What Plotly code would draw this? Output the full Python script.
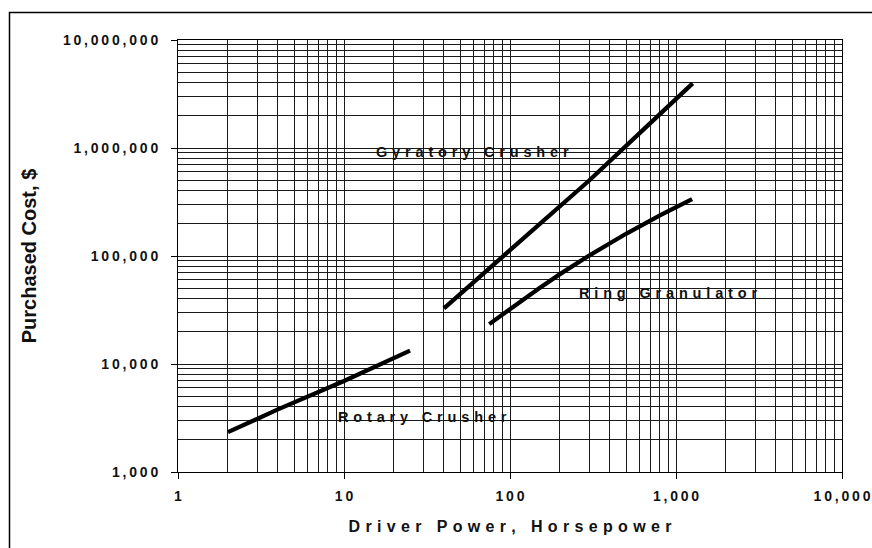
import numpy as np
import plotly.graph_objects as go

# Purchased cost of size-reduction equipment vs. driver power (log-log)
rotary_hp = [2, 4, 10, 25]
rotary_cost = [2340, 3800, 6950, 13300]

gyratory_hp = [40, 100, 300, 700, 1260]
gyratory_cost = [32800, 113000, 500000, 1700000, 3970000]

ring_hp = [75, 100, 150, 200, 300, 500, 800, 1250]
ring_cost = [23400, 32500, 50400, 67900, 101000, 160700, 238000, 336000]

x_tick_vals = [1, 10, 100, 1000, 10000]
x_tick_labels = ["1", "10", "100", "1,000", "10,000"]
y_tick_vals = [1000, 10000, 100000, 1000000, 10000000]
y_tick_labels = ["1,000", "10,000", "100,000", "1,000,000", "10,000,000"]

series_names = ["Rotary Crusher", "Gyratory Crusher", "Ring Granulator"]
label_hp = [29.7, 59.4, 895]
label_cost = [3230, 918000, 45400]

FONT = "Liberation Sans, Arial, sans-serif"
INK = "#111111"


def spaced(text, sep):
    """Spread characters apart with a fixed-width unicode space."""
    return sep.join(text)


# minor grid positions: 2..9 within each decade
def minor_vals(lo_exp, hi_exp):
    return [m * 10.0 ** e for e in range(lo_exp, hi_exp) for m in range(2, 10)]


fig = go.Figure()

for xs, ys, name in [(rotary_hp, rotary_cost, series_names[0]),
                     (gyratory_hp, gyratory_cost, series_names[1]),
                     (ring_hp, ring_cost, series_names[2])]:
    fig.add_trace(go.Scatter(
        x=xs, y=ys, mode="lines", name=name,
        line=dict(color="black", width=4.3),
        showlegend=False, hoverinfo="x+y+name",
    ))

for name, hx, cy in zip(series_names, label_hp, label_cost):
    fig.add_annotation(
        x=np.log10(hx), y=np.log10(cy), xref="x", yref="y",
        text=spaced(name, "\u2004"), showarrow=False,
        font=dict(family=FONT, size=14.5, color=INK, weight="bold"),
        xanchor="center", yanchor="middle",
    )

grid_color = "#1a1a1a"
tick_font = dict(family=FONT, size=14, color=INK, weight="bold")

fig.update_xaxes(
    type="log", range=[0, 4],
    tickmode="array", tickvals=x_tick_vals,
    ticktext=[spaced(t, "\u2009") for t in x_tick_labels],
    ticks="outside", ticklen=6, tickcolor="black", tickwidth=1,
    tickfont=tick_font, ticklabelstandoff=5,
    showgrid=True, gridcolor=grid_color, gridwidth=1,
    minor=dict(tickmode="array", tickvals=minor_vals(0, 4), showgrid=True,
               gridcolor=grid_color, gridwidth=1, ticks=""),
    showline=True, linecolor="black", linewidth=1, mirror=True,
    title=dict(text=spaced("Driver Power, Horsepower", "\u2004"),
               font=dict(family=FONT, size=16, color=INK, weight="bold"),
               standoff=18),
    automargin=False,
)

fig.update_yaxes(
    type="log", range=[3, 7],
    tickmode="array", tickvals=y_tick_vals,
    ticktext=[spaced(t, "\u2009") for t in y_tick_labels],
    ticks="outside", ticklen=6, tickcolor="black", tickwidth=1,
    tickfont=tick_font, ticklabelstandoff=10,
    showgrid=True, gridcolor=grid_color, gridwidth=1,
    minor=dict(tickmode="array", tickvals=minor_vals(3, 7), showgrid=True,
               gridcolor=grid_color, gridwidth=1, ticks=""),
    showline=True, linecolor="black", linewidth=1, mirror=True,
    title=dict(text="Purchased Cost, $",
               font=dict(family=FONT, size=20, color=INK, weight="bold"),
               standoff=20),
    automargin=False,
)

W, H = 872, 548
ML, MR, MT, MB = 178, 30, 40, 76
pw, ph = W - ML - MR, H - MT - MB

# outer frame around the figure
fig.add_shape(
    type="rect", xref="paper", yref="paper",
    x0=(9.5 - ML) / pw, x1=(W + 10 - ML) / pw,
    y0=-(MB + 10) / ph, y1=(H - MB - 12.5) / ph,
    line=dict(color="black", width=1.5), fillcolor="rgba(0,0,0,0)",
    layer="above",
)

fig.update_layout(
    width=W, height=H,
    margin=dict(l=ML, r=MR, t=MT, b=MB),
    paper_bgcolor="white", plot_bgcolor="white",
    font=dict(family=FONT, color=INK),
)

fig.write_html("out.html")
